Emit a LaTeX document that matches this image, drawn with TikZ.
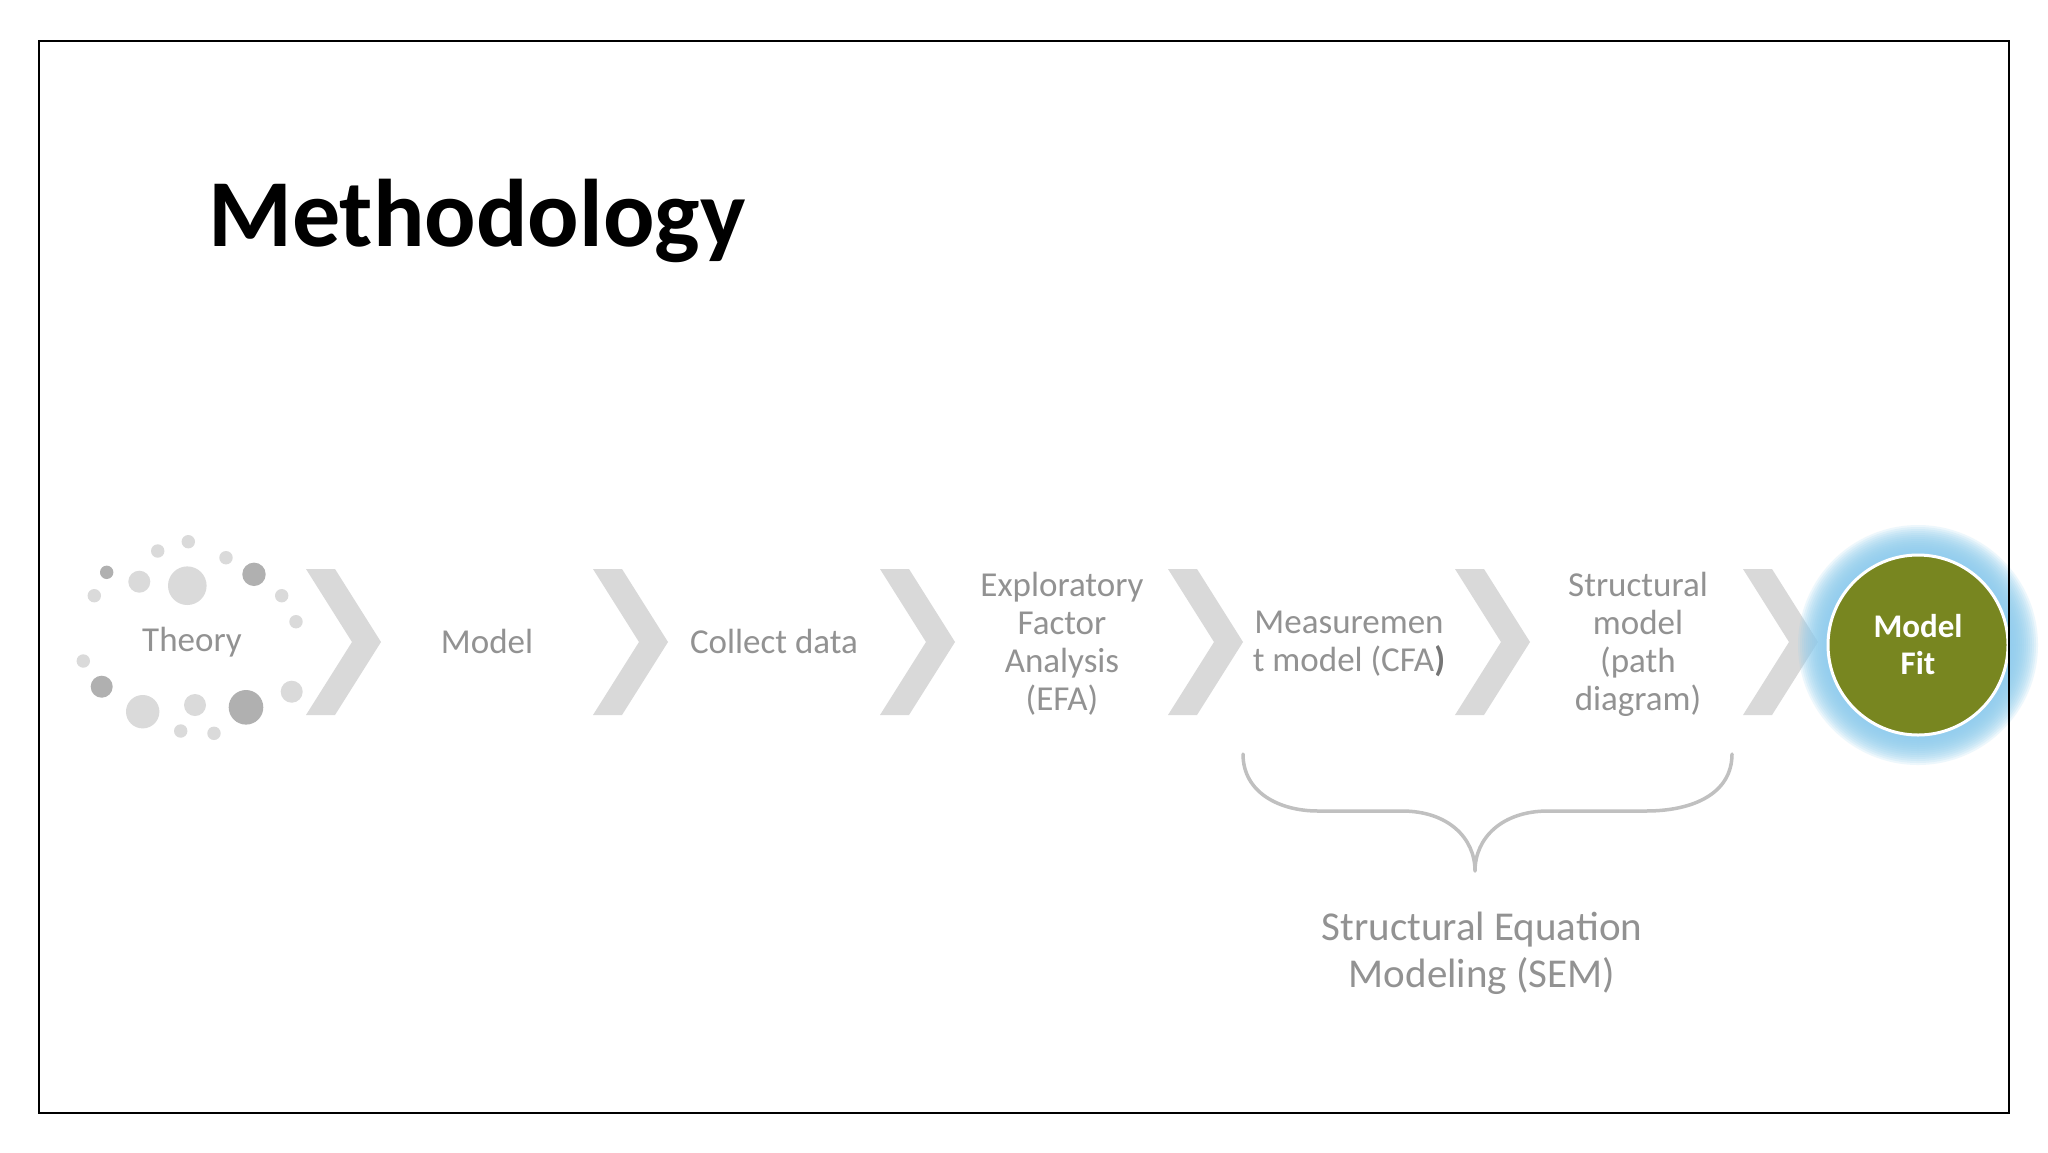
\documentclass[tikz,border=0pt]{standalone}
\usepackage{fontspec}
\setmainfont{Carlito}
\definecolor{txtgray}{RGB}{146,146,146}
\definecolor{chevgray}{RGB}{217,217,217}
\definecolor{dotlight}{RGB}{218,218,218}
\definecolor{dotdark}{RGB}{176,176,176}
\definecolor{bracegray}{RGB}{192,192,192}
\definecolor{olive}{RGB}{120,134,32}
\definecolor{glowblue}{RGB}{140,204,238}
\begin{document}
\begin{tikzpicture}[x=1pt,y=-1pt,
  steptext/.style={text=txtgray, font=\fontsize{35}{38}\selectfont, align=center, inner sep=0pt},
  semtext/.style={text=txtgray, font=\fontsize{41}{47}\selectfont, align=center, inner sep=0pt},
  chev/.style={fill=chevgray},
  bracestyle/.style={draw=bracegray, line width=3.5pt, line cap=round, line join=round},
  fitcircle/.style={circle, fill=olive, draw=white, line width=3pt, minimum size=180pt, inner sep=0pt,
    text=white, font=\fontsize{33}{37}\selectfont\bfseries, align=center}]
\useasboundingbox (0,0) rectangle (2048,1152);
\fill[white] (0,0) rectangle (2048,1152);

% title
\node[anchor=base west, inner sep=0pt, font=\fontsize{96}{104}\selectfont\bfseries] (title) at (208,246) {Methodology};

% theory dots
\foreach \x/\y/\r/\c in {
  188.3/541.7/6.7/dotlight, 157.7/551/6.7/dotlight, 226/557.7/6.7/dotlight,
  106.7/572.3/6.7/dotdark, 139.3/581.7/11/dotlight, 187.3/585.7/19.3/dotlight,
  254/574.3/11.7/dotdark, 94.3/595.7/6.7/dotlight, 281.7/595.7/6.7/dotlight,
  296/621.7/6.7/dotlight, 83.3/661/6.7/dotlight, 101.7/686.7/11/dotdark,
  142.7/711.7/16.7/dotlight, 195/705/11/dotlight, 246/707.3/17.3/dotdark,
  291.7/691.7/11/dotlight, 180.7/731/6.7/dotlight, 214/733.3/6.7/dotlight}
  \fill[\c] (\x,\y) circle[radius=\r pt];

% chevrons
\foreach \cx in {306,593,880,1168,1455,1743}
  \fill[chev] (\cx,569) -- ++(29,0) -- ++(46,73) -- ++(-46,73) -- ++(-29,0) -- ++(46,-73) -- cycle;

% step labels
\node[steptext] (theory) at (192,642) {Theory};
\node[steptext] (model) at (487,641) {Model};
\node[steptext] (collect) at (774,641) {Collect data};
\node[steptext] (efa) at (1062,644) {Exploratory\\Factor\\Analysis\\(EFA)};
\node[steptext] (cfa) at (1349,644) {Measuremen\\t model (CFA{\bfseries\color{txtgray!80!black})}};
\node[steptext] (struct) at (1638,644) {Structural\\model\\(path\\diagram)};

% glow + model fit
\foreach \r in {120,118,...,94}
  \fill[glowblue, opacity=0.15] (1918,645) circle[radius=\r pt];
\node[fitcircle] (fit) at (1918,645) {Model\\Fit};

% brace
\coordinate (bl) at (1243,754);
\coordinate (br) at (1732,754);
\coordinate (btip) at (1475,871);
\draw[bracestyle] (bl) .. controls (1243,793) and (1280,811) .. (1318,811) -- (1402,811)
   .. controls (1448,811) and (1475,838) .. (btip)
   .. controls (1475,838) and (1502,811) .. (1548,811) -- (1646,811)
   .. controls (1694,811) and (1732,793) .. (br);
\node[semtext] (sem) at (1482,953) {Structural Equation\\Modeling (SEM)};

% frame
\draw[line width=2pt] (38.5,40.5) rectangle (2008.5,1112.5);
\end{tikzpicture}
\end{document}
